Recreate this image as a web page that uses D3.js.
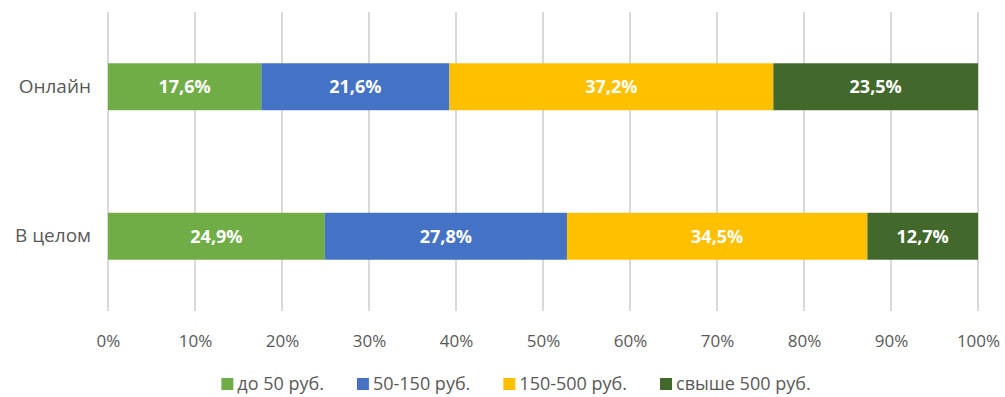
<!DOCTYPE html>
<html><head><meta charset="utf-8">
<script src="https://cdn.jsdelivr.net/npm/d3@7"></script>
<style>body{margin:0;background:#fff;} svg{display:block;font-family:"Open Sans","Liberation Sans",sans-serif;}</style>
</head><body>
<svg id="c" width="1005" height="397"></svg>
<script>
const categories = ["Онлайн", "В целом"];
const seriesNames = ["до 50 руб.", "50-150 руб.", "150-500 руб.", "свыше 500 руб."];
const seriesColors = ["#70AD47", "#4472C4", "#FFC000", "#43682B"];
const values = {
  "до 50 руб.":     [17.6, 24.9],
  "50-150 руб.":    [21.6, 27.8],
  "150-500 руб.":   [37.2, 34.5],
  "свыше 500 руб.": [23.5, 12.7]
};
const tickValues = [0,0.1,0.2,0.3,0.4,0.5,0.6,0.7,0.8,0.9,1];

const rows = categories.map((c,i)=>{const o={cat:c}; seriesNames.forEach(s=>o[s]=values[s][i]); return o;});
const stack = d3.stack().keys(seriesNames).offset(d3.stackOffsetExpand)(rows);

const svg = d3.select("#c");
const x = d3.scaleLinear().domain([0,1]).range([108,978]);
const y = d3.scaleBand().domain(categories).range([12,311]).paddingInner(0.686).paddingOuter(0.343);

// gridlines
svg.append("g").selectAll("line").data(tickValues).join("line")
  .attr("x1",d=>x(d)).attr("x2",d=>x(d)).attr("y1",12).attr("y2",311)
  .attr("stroke","#d9d9d9").attr("stroke-width",2);

// bars
const g = svg.append("g");
stack.forEach((layer,si)=>{
  layer.forEach((d,i)=>{
    g.append("rect").attr("x",x(d[0])).attr("width",x(d[1])-x(d[0]))
     .attr("y",y(categories[i])).attr("height",y.bandwidth()).attr("fill",seriesColors[si]);
    g.append("text").attr("x",(x(d[0])+x(d[1]))/2).attr("y",y(categories[i])+y.bandwidth()/2)
     .attr("dy","0.35em").attr("text-anchor","middle").attr("fill","#fff")
     .attr("font-weight","bold").attr("font-size",18)
     .text(values[seriesNames[si]][i].toFixed(1).replace(".",",")+"%");
  });
});

// x axis labels
const xa = svg.append("g").attr("transform","translate(0,341)").call(d3.axisBottom(x).tickValues(tickValues).tickFormat(d=>Math.round(d*100)+"%").tickSize(0).tickPadding(0));
xa.select(".domain").remove();
xa.selectAll("text").attr("fill","#595959").attr("font-size",17).attr("dy","0.35em").attr("font-family","\"Open Sans\",\"Liberation Sans\",sans-serif");

// y axis labels
const ya = svg.append("g").attr("transform","translate(91,0)").call(d3.axisLeft(y).tickSize(0).tickPadding(0));
ya.select(".domain").remove();
ya.selectAll("text").attr("fill","#595959").attr("font-size",19).attr("font-family","\"Open Sans\",\"Liberation Sans\",sans-serif");

// legend
const lg = svg.append("g").attr("transform","translate(0,384)");
const items = lg.selectAll("g").data(seriesNames).join("g");
items.append("rect").attr("width",12).attr("height",12).attr("y",-6).attr("fill",(d,i)=>seriesColors[i]);
items.append("text").attr("x",16).attr("dy","0.35em").attr("fill","#595959").attr("font-size",18).text(d=>d);
const widths = [];
items.each(function(){widths.push(this.getBBox().width);});
const gap = 33;
const total = d3.sum(widths)+gap*(widths.length-1);
let cx = 516 - total/2;
items.each(function(d,i){d3.select(this).attr("transform",`translate(${cx},0)`); cx += widths[i]+gap;});
</script>
</body></html>
